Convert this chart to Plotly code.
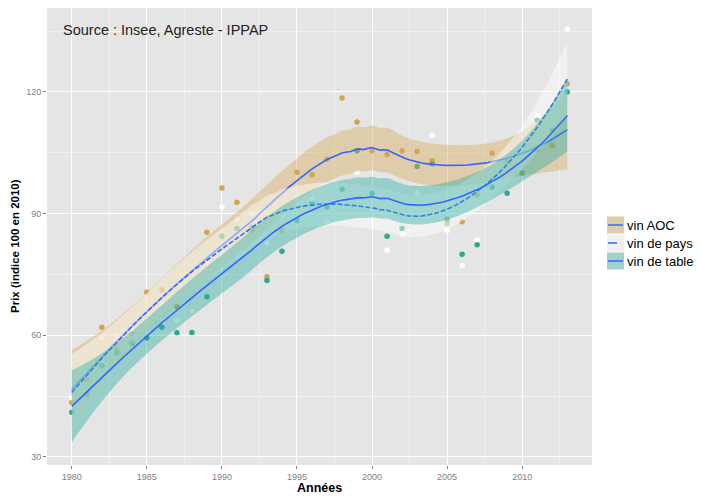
import numpy as np
import plotly.graph_objects as go

years = list(range(1980, 2014))

vin_aoc = [43.5, 49, 62, 56.4, 60.5, 70.6, 71.2, 67, 66, 85.4,
           96.3, 92.8, 85.8, 74.4, 85.8, 100.2, 99.6, 103.4, 118.5, 112.6,
           105.5, 104.6, 105.5, 105.3, 103, 87.5, 88, 94.6, 104.9, 102.7,
           100, 105.7, 106.8, 122]
vin_pays = [44.6, 50.3, 59.3, 60, 61.5, 65.7, 67.7, 63.7, 66, 77.8,
            91.6, 88.6, 90, 82.7, 89.5, 93.8, 93.6, 88, 93.2, 100.2,
            91.3, 81, 85, 95, 109.4, 85.8, 77.2, 83.4, 97.9, 99.1,
            100, 114, 113, 135.5]
vin_table = [41, 45.5, 52.5, 55.6, 58, 59.3, 62, 60.6, 60.7, 69.5,
             84.4, 86.3, 86.5, 73.5, 80.7, 88.3, 92.4, 91.6, 96, 105.5,
             95, 84.4, 86.3, 101.6, 102.3, 88.6, 80, 82.3, 96.5, 95,
             100, 113, 110.5, 120]

series = [
    # name, values, point colour, ribbon fill, dash
    ('vin AOC', vin_aoc, '#D3A350', 'rgba(214,170,90,0.42)', 'solid'),
    ('vin de pays', vin_pays, '#FFFFFF', 'rgba(255,255,255,0.45)', '5px,2px'),
    ('vin de table', vin_table, '#2FA98A', 'rgba(45,175,165,0.42)', 'solid'),
]


def loess_matrix(x, xe, span=0.75):
    # local quadratic fit with tricube weights (like R's loess default)
    n = len(x)
    q = int(np.floor(n * span))
    rows = []
    for x0 in xe:
        d = np.abs(x - x0)
        h = np.sort(d)[q - 1]
        u = d / h
        w = np.where(u < 1, (1 - u ** 3) ** 3, 0.0)
        X = np.vstack([np.ones(n), x - x0, (x - x0) ** 2]).T
        XtW = X.T * w
        rows.append(np.linalg.solve(XtW @ X, XtW)[0])
    return np.array(rows)


def smooth(x, y, xe):
    x = np.asarray(x, float)
    y = np.asarray(y, float)
    Ld = loess_matrix(x, x)
    M = np.eye(len(x)) - Ld
    R1 = M.T @ M
    d1 = np.trace(R1)
    d2 = np.trace(R1 @ R1)
    s = np.sqrt(np.sum((M @ y) ** 2) / d1)
    Le = loess_matrix(x, xe)
    fit = Le @ y
    se = s * np.sqrt(np.sum(Le ** 2, axis=1))
    df = d1 ** 2 / d2
    z = 1.959964
    t = z + (z ** 3 + z) / (4 * df) + (5 * z ** 5 + 16 * z ** 3 + 3 * z) / (96 * df ** 2)
    return fit, fit - t * se, fit + t * se


grid = np.linspace(years[0], years[-1], 120)

fig = go.Figure()

for name, vals, pcol, fcol, dash in series:
    fig.add_trace(go.Scatter(x=years, y=vals, mode='markers',
                             marker=dict(color=pcol, size=5.5, line=dict(width=0)),
                             showlegend=False, hoverinfo='skip'))

for name, vals, pcol, fcol, dash in series:
    fit, lo, hi = smooth(years, vals, grid)
    fig.add_trace(go.Scatter(x=np.concatenate([grid, grid[::-1]]),
                             y=np.concatenate([hi, lo[::-1]]),
                             fill='toself', fillcolor=fcol, mode='none',
                             showlegend=False, hoverinfo='skip'))
    fig.add_trace(go.Scatter(x=grid, y=fit, mode='lines',
                             line=dict(color='#3366FF', width=1.6, dash=dash),
                             name=name, showlegend=False))

# panel in pixels: left 47, right 592, top 8, bottom 465
def px(x):
    return (x - 47) / 545.0


def py(y):
    return (465 - y) / 457.0


shapes = []
annotations = []
legend_rows = [(225, 'vin AOC', 'rgb(222,204,172)', 'solid'),
               (243, 'vin de pays', 'rgb(240,240,240)', 'dash'),
               (261, 'vin de table', 'rgb(160,210,205)', 'solid')]
for yc, label, fill, dash in legend_rows:
    shapes.append(dict(type='rect', xref='paper', yref='paper',
                       x0=px(607), x1=px(624), y0=py(yc + 8.5), y1=py(yc - 8.5),
                       fillcolor=fill, line=dict(width=0), layer='above'))
    shapes.append(dict(type='line', xref='paper', yref='paper',
                       x0=px(608), x1=px(623), y0=py(yc), y1=py(yc),
                       line=dict(color='#3366FF', width=1.5, dash=dash), layer='above'))
    annotations.append(dict(text=label, xref='paper', yref='paper',
                            x=px(625), y=py(yc), xanchor='left', yanchor='middle',
                            showarrow=False, font=dict(size=13, color='black')))

annotations.append(dict(text='Source : Insee, Agreste - IPPAP', xref='paper', yref='paper',
                        x=px(61), y=py(30), xanchor='left', yanchor='middle',
                        showarrow=False, font=dict(size=14.5, color='#222222')))
annotations.append(dict(text='<b>Années</b>', xref='paper', yref='paper',
                        x=px(319), y=py(488), xanchor='center', yanchor='middle',
                        showarrow=False, font=dict(size=12.5, color='black')))
annotations.append(dict(text='<b>Prix (indice 100 en 2010)</b>', xref='paper', yref='paper',
                        x=px(15), y=py(246), xanchor='center', yanchor='middle',
                        textangle=-90, showarrow=False, font=dict(size=11.5, color='black')))

fig.update_layout(
    width=701, height=497,
    margin=dict(l=47, r=109, t=8, b=32, autoexpand=False),
    plot_bgcolor='#E5E5E5', paper_bgcolor='white',
    font=dict(family='Liberation Sans, Arial, sans-serif', color='black'),
    showlegend=False,
    shapes=shapes, annotations=annotations,
)

fig.update_xaxes(range=[1978.35, 2014.65], tickvals=[1980, 1985, 1990, 1995, 2000, 2005, 2010],
                 ticks='outside', ticklen=3, tickcolor='#7F7F7F', tickwidth=1,
                 tickfont=dict(size=9, color='#7F7F7F'), automargin=False,
                 showgrid=True, gridcolor='white', gridwidth=1.2, zeroline=False,
                 minor=dict(tickvals=[1982.5, 1987.5, 1992.5, 1997.5, 2002.5, 2007.5, 2012.5],
                            showgrid=True, gridcolor='#F0F0F0', gridwidth=0.6))
fig.update_yaxes(range=[28, 140.7], tickvals=[30, 60, 90, 120],
                 ticks='outside', ticklen=3, tickcolor='#7F7F7F', tickwidth=1,
                 tickfont=dict(size=9, color='#7F7F7F'), automargin=False,
                 showgrid=True, gridcolor='white', gridwidth=1.2, zeroline=False,
                 minor=dict(tickvals=[45, 75, 105, 135],
                            showgrid=True, gridcolor='#F0F0F0', gridwidth=0.6))

# the page body has a default 8px margin; drop it so the figure fills the window
fig.write_html("out.html", config={'displayModeBar': False},
               post_script="document.body.style.margin='0px';")
